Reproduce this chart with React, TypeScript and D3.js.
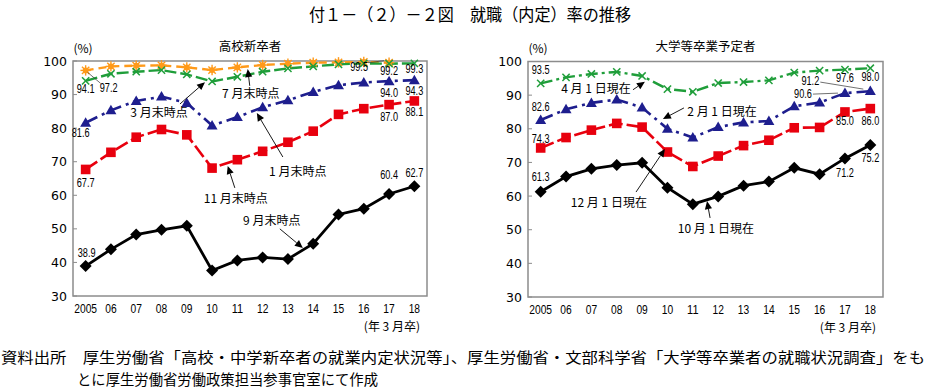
import React from 'react';
import * as d3 from 'd3';

const W = 927;
const H = 389;

const years = ['2005', '06', '07', '08', '09', '10', '11', '12', '13', '14', '15', '16', '17', '18'];
const yTicks = [30, 40, 50, 60, 70, 80, 90, 100];

// 高校新卒者
const hsJul = [97.2, 98.4, 98.6, 98.7, 98.1, 97.3, 98.1, 98.8, 99.2, 99.5, 99.6, 99.7, 99.5];
const hsMar = [94.1, 96.2, 96.8, 97.3, 96.0, 93.9, 95.3, 96.8, 97.8, 98.4, 99.0, 99.3, 99.2, 99.3];
const hsJan = [81.6, 85.3, 88.1, 89.4, 87.5, 80.8, 83.3, 86.2, 88.3, 90.8, 92.8, 93.6, 94.0, 94.3];
const hsNov = [67.7, 72.8, 77.3, 79.6, 78.0, 68.1, 70.6, 73.1, 75.8, 79.1, 84.1, 85.8, 87.0, 88.1];
const hsSep = [38.9, 43.9, 48.3, 49.7, 50.9, 37.6, 40.6, 41.5, 41.0, 45.6, 54.3, 56.0, 60.4, 62.7];

// 大学等卒業予定者
const uvApr = [93.5, 95.3, 96.3, 96.9, 95.7, 91.8, 91.0, 93.6, 93.9, 94.4, 96.7, 97.3, 97.6, 98.0];
const uvFeb = [82.6, 85.8, 87.7, 88.7, 86.3, 80.0, 77.4, 80.5, 81.9, 82.3, 86.7, 87.8, 90.6, 91.2];
const uvDec = [74.3, 77.4, 79.6, 81.6, 80.5, 73.1, 68.8, 71.9, 75.0, 76.6, 80.3, 80.4, 85.0, 86.0];
const uvOct = [61.3, 65.8, 68.1, 69.2, 69.9, 62.5, 57.6, 59.9, 63.1, 64.3, 68.4, 66.5, 71.2, 75.2];

const ORANGE = '#FF9A1A';
const GREEN = '#1F9E3A';
const NAVY = '#1E1E8E';
const RED = '#E8000E';
const BLACK = '#000000';

type Kind = 'star' | 'x' | 'tri' | 'sq' | 'dia';
interface Series { values: number[]; color: string; dash: string; kind: Kind; width: number }
interface ValueLabel { s: number; i: number; text: string; dx: number; dy: number; leader?: [number, number, number, number] }
interface Note { text: string; tx: number; ty: number; ax: number; ay: number; bx: number; by: number }

const hsSeries: Series[] = [
  { values: hsJul, color: ORANGE, dash: '8,5', kind: 'star', width: 2.4 },
  { values: hsMar, color: GREEN, dash: '12,4', kind: 'x', width: 2.4 },
  { values: hsJan, color: NAVY, dash: '13,5,3,5', kind: 'tri', width: 2.6 },
  { values: hsNov, color: RED, dash: '14,4', kind: 'sq', width: 2.6 },
  { values: hsSep, color: BLACK, dash: '', kind: 'dia', width: 2.8 },
];
const uvSeries: Series[] = [
  { values: uvApr, color: GREEN, dash: '12,4,3,4', kind: 'x', width: 2.4 },
  { values: uvFeb, color: NAVY, dash: '13,5,3,5', kind: 'tri', width: 2.6 },
  { values: uvDec, color: RED, dash: '14,4', kind: 'sq', width: 2.6 },
  { values: uvOct, color: BLACK, dash: '', kind: 'dia', width: 2.8 },
];

const hsLabels: ValueLabel[] = [
  { s: 1, i: 0, text: '94.1', dx: 0, dy: 8 },
  { s: 0, i: 0, text: '97.2', dx: 23, dy: 18, leader: [2, 2, 15, 13] },
  { s: 2, i: 0, text: '81.6', dx: -5, dy: 10 },
  { s: 3, i: 0, text: '67.7', dx: 0, dy: 14 },
  { s: 4, i: 0, text: '38.9', dx: 1, dy: -13 },
  { s: 0, i: 12, text: '99.5', dx: -30, dy: 4, leader: [-21, 0, -5, -2] },
  { s: 1, i: 12, text: '99.2', dx: 0, dy: 7 },
  { s: 1, i: 13, text: '99.3', dx: 0, dy: 6 },
  { s: 2, i: 12, text: '94.0', dx: 0, dy: 12 },
  { s: 2, i: 13, text: '94.3', dx: 0, dy: 11 },
  { s: 3, i: 12, text: '87.0', dx: 0, dy: 12 },
  { s: 3, i: 13, text: '88.1', dx: 0, dy: 11 },
  { s: 4, i: 12, text: '60.4', dx: 0, dy: -19 },
  { s: 4, i: 13, text: '62.7', dx: 0, dy: -13 },
];
const uvLabels: ValueLabel[] = [
  { s: 0, i: 0, text: '93.5', dx: 0, dy: -13 },
  { s: 1, i: 0, text: '82.6', dx: 0, dy: -13 },
  { s: 2, i: 0, text: '74.3', dx: 0, dy: -9 },
  { s: 3, i: 0, text: '61.3', dx: 0, dy: -15 },
  { s: 1, i: 13, text: '91.2', dx: -60, dy: -10.5, leader: [-50, -9, -7, -2] },
  { s: 1, i: 12, text: '90.6', dx: -42, dy: 1, leader: [-32, 1, -7, 0] },
  { s: 0, i: 12, text: '97.6', dx: 0, dy: 8 },
  { s: 0, i: 13, text: '98.0', dx: 0, dy: 9 },
  { s: 2, i: 12, text: '85.0', dx: 0, dy: 9 },
  { s: 2, i: 13, text: '86.0', dx: 0, dy: 12 },
  { s: 3, i: 12, text: '71.2', dx: 0, dy: 15 },
  { s: 3, i: 13, text: '75.2', dx: 0, dy: 13 },
];

// text position and arrow in (year index, value) units
const hsNotes: Note[] = [
  { text: '3 月末時点', tx: 2.9, ty: 85.1, ax: 3.73, ay: 87.2, bx: 4.72, by: 93.7 },
  { text: '7 月末時点', tx: 6.53, ty: 90.5, ax: 6.49, ay: 92.6, bx: 6.41, by: 97.6 },
  { text: '1 月末時点', tx: 8.39, ty: 67.5, ax: 7.8, ay: 71.4, bx: 6.77, by: 84.5 },
  { text: '11 月末時点', tx: 5.94, ty: 59.2, ax: 5.9, ay: 62.2, bx: 5.62, by: 68.7 },
  { text: '9 月末時点', tx: 7.36, ty: 52.9, ax: 7.68, ay: 50.0, bx: 8.59, by: 44.3 },
];
const uvNotes: Note[] = [
  { text: '4 月 1 日現在', tx: 2.18, ty: 92.2, ax: 3.64, ay: 91.6, bx: 4.11, by: 94.0 },
  { text: '2 月 1 日現在', tx: 7.15, ty: 85.3, ax: 5.65, ay: 86.2, bx: 4.82, by: 82.9 },
  { text: '12 月 1 日現在', tx: 2.69, ty: 58.5, ax: 3.76, ay: 61.2, bx: 4.9, by: 74.0 },
  { text: '10 月 1 日現在', tx: 6.91, ty: 50.8, ax: 6.68, ay: 53.5, bx: 6.56, by: 58.5 },
];

const JP = "'Noto Sans CJK JP', 'Noto Sans', sans-serif";
const NARROW = "'Liberation Sans', sans-serif";
const NUM = "'DejaVu Sans', sans-serif";

// condensed look: squeeze digits to the narrow widths of the original
const narrowLen = (s: string, digit: number) =>
  s.split('').reduce((a, c) => a + (c === '.' ? digit * 0.5 : digit), 0);

const Marker: React.FC<{ kind: Kind; x: number; y: number; color: string }> = ({ kind, x, y, color }) => {
  if (kind === 'star') {
    const r = 5.2;
    return (
      <g stroke={color} strokeWidth={1.4}>
        {[0, 45, 90, 135].map((a) => {
          const t = (a * Math.PI) / 180;
          return <line key={a} x1={x - r * Math.cos(t)} y1={y - r * Math.sin(t)} x2={x + r * Math.cos(t)} y2={y + r * Math.sin(t)} />;
        })}
        <circle cx={x} cy={y} r={2.2} fill={color} />
      </g>
    );
  }
  if (kind === 'x') {
    const r = 3.6;
    return (
      <g stroke={color} strokeWidth={1.5}>
        <line x1={x - r} y1={y - r} x2={x + r} y2={y + r} />
        <line x1={x - r} y1={y + r} x2={x + r} y2={y - r} />
      </g>
    );
  }
  if (kind === 'tri') {
    return <path d={`M${x},${y - 5.5}L${x + 5.5},${y + 4}L${x - 5.5},${y + 4}Z`} fill={color} />;
  }
  if (kind === 'sq') {
    return <rect x={x - 4.8} y={y - 4.8} width={9.6} height={9.6} fill={color} />;
  }
  const r = 6;
  return <path d={`M${x},${y - r}L${x + r},${y}L${x},${y + r}L${x - r},${y}Z`} fill={color} />;
};

const Arrow: React.FC<{ x1: number; y1: number; x2: number; y2: number }> = ({ x1, y1, x2, y2 }) => {
  const a = Math.atan2(y2 - y1, x2 - x1);
  const L = 8;
  const w = 3.6;
  const bx = x2 - L * Math.cos(a);
  const by = y2 - L * Math.sin(a);
  const px = -Math.sin(a) * w;
  const py = Math.cos(a) * w;
  return (
    <g>
      <line x1={x1} y1={y1} x2={bx} y2={by} stroke="#000" strokeWidth={0.9} />
      <path d={`M${x2},${y2}L${bx + px},${by + py}L${bx - px},${by - py}Z`} fill="#000" />
    </g>
  );
};

interface PanelProps {
  x0: number; x1: number; top: number; bottom: number;
  title: string; series: Series[]; labels: ValueLabel[]; notes: Note[];
}

const Panel: React.FC<PanelProps> = ({ x0, x1, top, bottom, title, series, labels, notes }) => {
  const x = d3.scalePoint<string>().domain(years).range([x0, x1]).padding(0.5);
  const y = d3.scaleLinear().domain([30, 100]).range([bottom, top]);
  const xi = (f: number) => (x(years[0]) as number) + f * x.step();
  const line = d3
    .line<number>()
    .x((_, i) => x(years[i]) as number)
    .y((d) => y(d));

  return (
    <g>
      <text x={(x0 + x1) / 2} y={45} textAnchor="middle" dominantBaseline="central" fontFamily={JP} fontSize={12.5}>
        {title}
      </text>
      <text x={x0 + 10} y={47} textAnchor="middle" dominantBaseline="central" fontFamily={JP} fontSize={12}>
        (%)
      </text>
      <rect x={x0} y={top} width={x1 - x0} height={bottom - top} fill="none" stroke="#8c8c8c" strokeWidth={1.5} />
      {yTicks.map((t) => (
        <g key={t}>
          <line x1={x0} x2={x0 + 4} y1={y(t)} y2={y(t)} stroke="#8c8c8c" strokeWidth={1} />
          <text x={x0 - 6} y={y(t)} textAnchor="end" dominantBaseline="central" fontFamily={NUM} fontSize={12.5}>
            {t}
          </text>
        </g>
      ))}
      {years.map((yr) => (
        <text key={yr} x={x(yr)} y={bottom + 13} textAnchor="middle" dominantBaseline="central" fontFamily={NARROW} fontSize={12.5}
          textLength={narrowLen(yr, 5.7)} lengthAdjust="spacingAndGlyphs">
          {yr}
        </text>
      ))}
      <text x={x1 - 7} y={bottom + 29} textAnchor="end" dominantBaseline="central" fontFamily={JP} fontSize={12}>
        (年 3 月卒)
      </text>

      {series.map((s, k) => (
        <path key={`l${k}`} d={line(s.values) ?? ''} fill="none" stroke={s.color} strokeWidth={s.width} strokeDasharray={s.dash || undefined} />
      ))}
      {series.map((s, k) => (
        <g key={`m${k}`}>
          {s.values.map((v, i) => (
            <Marker key={i} kind={s.kind} x={x(years[i]) as number} y={y(v)} color={s.color} />
          ))}
        </g>
      ))}

      {labels.map((lb, k) => {
        const px = x(years[lb.i]) as number;
        const py = y(series[lb.s].values[lb.i]);
        return (
          <g key={`v${k}`}>
            {lb.leader && (
              <line x1={px + lb.leader[0]} y1={py + lb.leader[1]} x2={px + lb.leader[2]} y2={py + lb.leader[3]} stroke="#333" strokeWidth={0.7} />
            )}
            <text x={px + lb.dx} y={py + lb.dy} textAnchor="middle" dominantBaseline="central" fontFamily={NARROW} fontSize={12}
              textLength={narrowLen(lb.text, 5.1)} lengthAdjust="spacingAndGlyphs">
              {lb.text}
            </text>
          </g>
        );
      })}

      {notes.map((n, k) => (
        <g key={`n${k}`}>
          <Arrow x1={xi(n.ax)} y1={y(n.ay)} x2={xi(n.bx)} y2={y(n.by)} />
          <text x={xi(n.tx)} y={y(n.ty)} textAnchor="middle" dominantBaseline="central" fontFamily={JP} fontSize={12}>
            {n.text}
          </text>
        </g>
      ))}
    </g>
  );
};

export default function App() {
  return (
    <svg width={W} height={H} style={{ position: 'absolute', left: 0, top: 0, background: '#fff' }}>
      <rect width={W} height={H} fill="#fff" />
      <text x={470} y={13} textAnchor="middle" dominantBaseline="central" fontFamily={JP} fontSize={17} textLength={322} lengthAdjust="spacingAndGlyphs">
        付１－（２）－２図　就職（内定）率の推移
      </text>
      <Panel x0={73} x1={427} top={61} bottom={296} title="高校新卒者" series={hsSeries} labels={hsLabels} notes={hsNotes} />
      <Panel x0={528} x1={883} top={61.5} bottom={297} title="大学等卒業予定者" series={uvSeries} labels={uvLabels} notes={uvNotes} />
      <text x={1} y={356} dominantBaseline="central" fontFamily={JP} fontSize={14.5} textLength={924} lengthAdjust="spacingAndGlyphs">
        資料出所　厚生労働省「高校・中学新卒者の就業内定状況等」、厚生労働省・文部科学省「大学等卒業者の就職状況調査」をも
      </text>
      <text x={77} y={378} dominantBaseline="central" fontFamily={JP} fontSize={14.5} textLength={301} lengthAdjust="spacingAndGlyphs">
        とに厚生労働省労働政策担当参事官室にて作成
      </text>
    </svg>
  );
}
